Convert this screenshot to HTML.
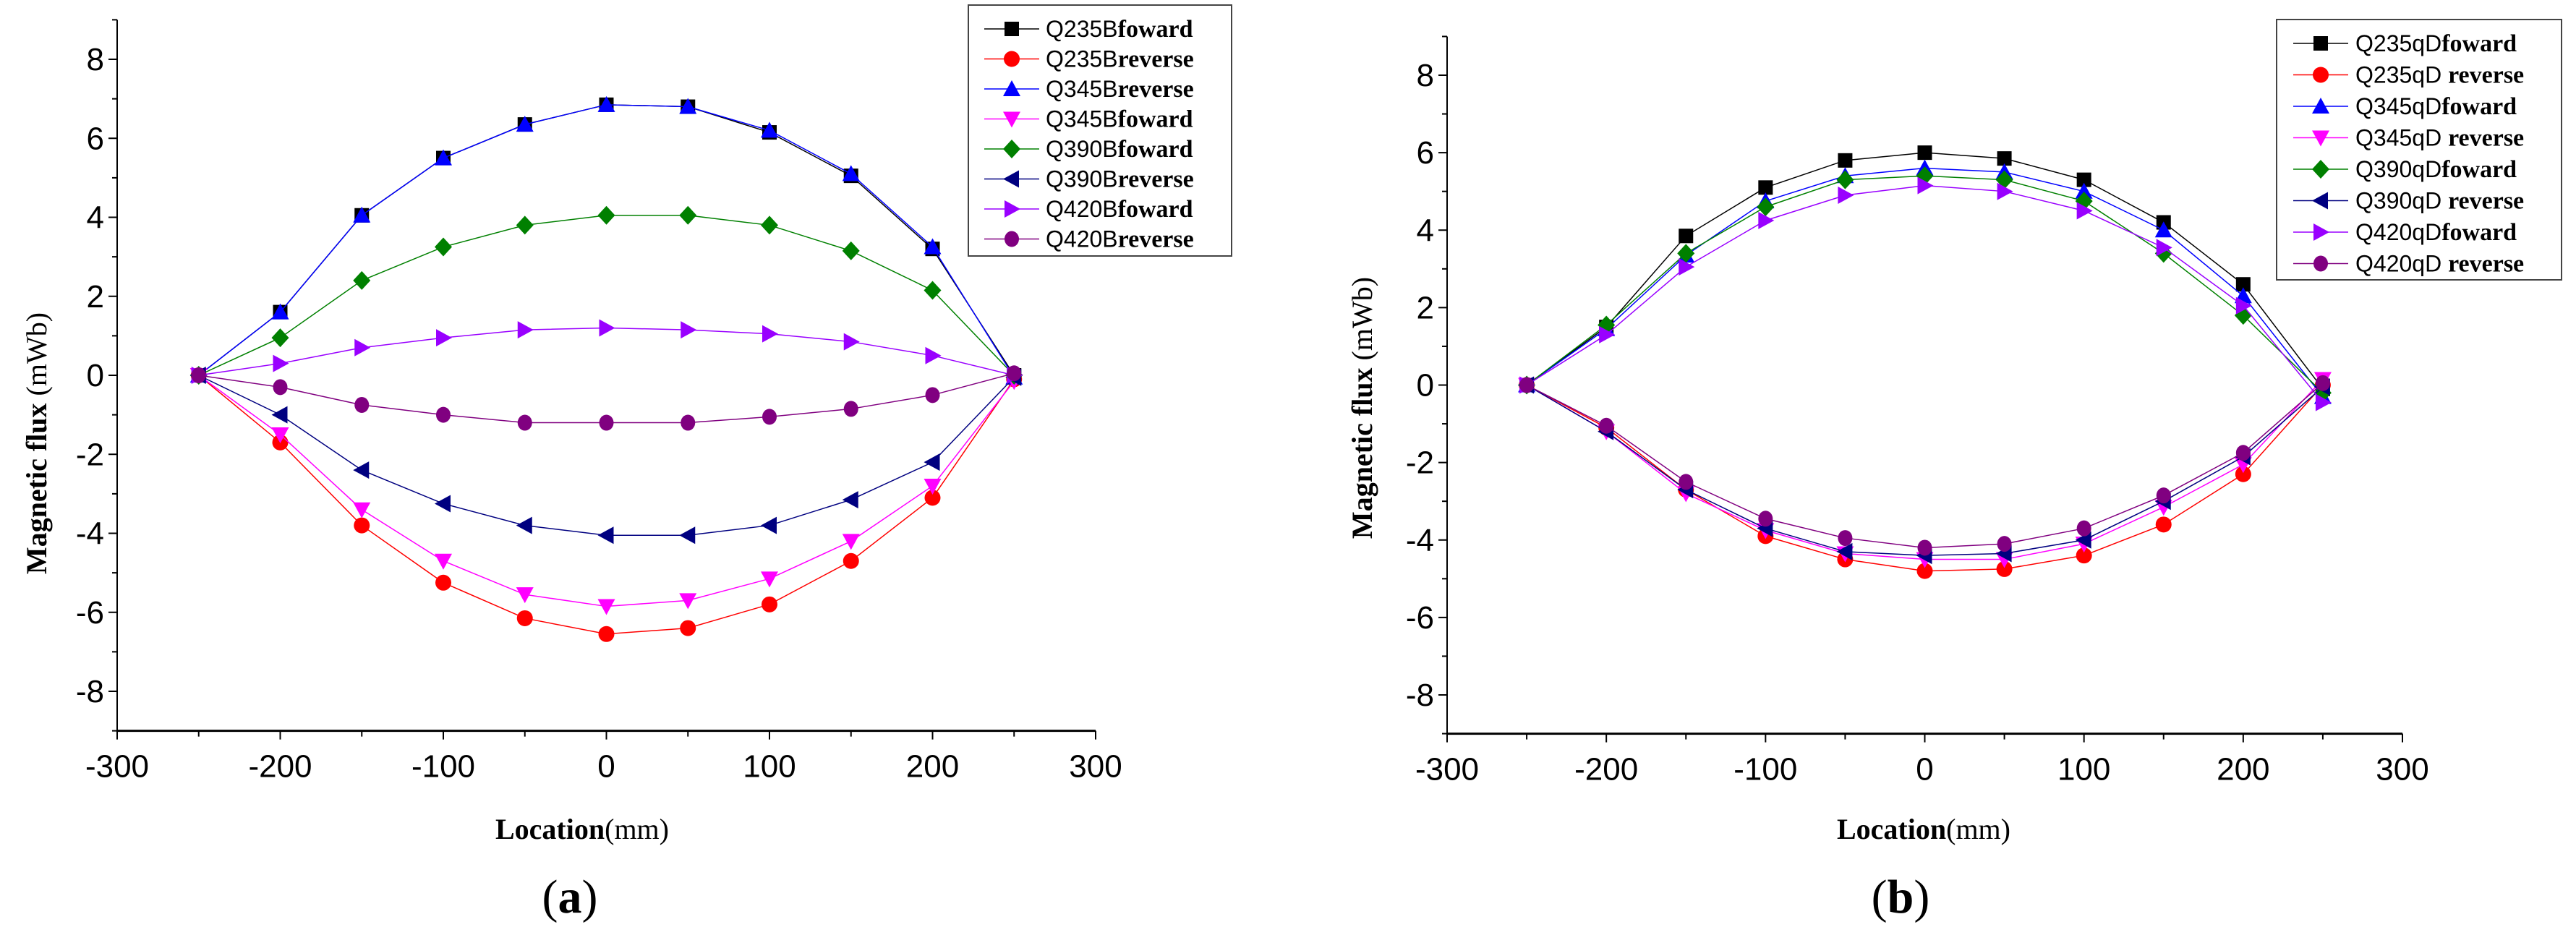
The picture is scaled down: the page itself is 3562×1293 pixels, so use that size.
<!DOCTYPE html>
<html><head><meta charset="utf-8"><style>
body{margin:0;background:#fff;}
svg{display:block;font-family:"Liberation Sans",sans-serif;}
</style></head><body>
<svg id="s" width="3562" height="1293" viewBox="0 0 3562 1293"></svg>
<script>
const xs=[-250,-200,-150,-100,-50,0,50,100,150,200,250];
const xTicks=[-300,-200,-100,0,100,200,300];
const yTicks=[-8,-6,-4,-2,0,2,4,6,8];
const namesA=["Q235Bfoward","Q235Breverse","Q345Breverse","Q345Bfoward","Q390Bfoward","Q390Breverse","Q420Bfoward","Q420Breverse"];
const namesB=["Q235qDfoward","Q235qD reverse","Q345qDfoward","Q345qD reverse","Q390qDfoward","Q390qD reverse","Q420qDfoward","Q420qD reverse"];
const a1=[0,1.6,4.05,5.5,6.35,6.85,6.8,6.15,5.05,3.2,0];
const a2=[0,-1.7,-3.8,-5.25,-6.15,-6.55,-6.4,-5.8,-4.7,-3.1,-0.1];
const a3=[0,1.6,4.05,5.5,6.35,6.85,6.8,6.2,5.1,3.25,-0.05];
const a4=[0,-1.5,-3.4,-4.7,-5.55,-5.85,-5.7,-5.15,-4.2,-2.8,-0.15];
const a5=[0,0.95,2.4,3.25,3.8,4.05,4.05,3.8,3.15,2.15,0];
const a6=[0,-1,-2.4,-3.25,-3.8,-4.05,-4.05,-3.8,-3.15,-2.2,-0.05];
const a7=[0,0.3,0.7,0.95,1.15,1.2,1.15,1.05,0.85,0.5,0];
const a8=[0,-0.3,-0.75,-1,-1.2,-1.2,-1.2,-1.05,-0.85,-0.5,0.05];
const b1=[0,1.5,3.85,5.1,5.8,6.0,5.85,5.3,4.2,2.6,-0.1];
const b2=[0,-1.1,-2.7,-3.9,-4.5,-4.8,-4.75,-4.4,-3.6,-2.3,0];
const b3=[0,1.45,3.35,4.75,5.4,5.6,5.5,5.0,4.0,2.3,-0.3];
const b4=[0,-1.2,-2.8,-3.75,-4.35,-4.5,-4.5,-4.1,-3.15,-2.05,0.15];
const b5=[0,1.55,3.4,4.6,5.3,5.4,5.3,4.75,3.4,1.8,-0.2];
const b6=[0,-1.2,-2.7,-3.7,-4.3,-4.4,-4.35,-4.0,-3.0,-1.85,-0.05];
const b7=[0,1.3,3.05,4.25,4.9,5.15,5.0,4.5,3.55,2.05,-0.45];
const b8=[0,-1.05,-2.5,-3.45,-3.95,-4.2,-4.1,-3.7,-2.85,-1.75,0.05];
const colors=["#000","#ff0000","#0000ff","#ff00ff","#008000","#000080","#9900ff","#800080"];
const shapes=["sq","ci","up","dn","di","lt","rt","hx"];
const NS="http://www.w3.org/2000/svg";
const svg=document.getElementById('s');
function el(t,at,p){const e=document.createElementNS(NS,t);for(const k in at)e.setAttribute(k,at[k]);(p||svg).appendChild(e);return e;}
function marker(g,shape,x,y,c){
  const r=10;let e;
  if(shape=="sq")e=el('rect',{x:x-r,y:y-r,width:2*r,height:2*r,fill:c},g);
  else if(shape=="ci")e=el('ellipse',{cx:x,cy:y,rx:r+1,ry:r+1,fill:c},g);
  else if(shape=="hx")e=el('ellipse',{cx:x,cy:y,rx:r,ry:r+1,fill:c},g);
  else{let p;
    if(shape=="up")p=[[x,y-r-2],[x+r+2,y+r],[x-r-2,y+r]];
    if(shape=="dn")p=[[x,y+r+2],[x+r+2,y-r],[x-r-2,y-r]];
    if(shape=="di")p=[[x,y-r-3],[x+r+2,y],[x,y+r+3],[x-r-2,y]];
    if(shape=="lt")p=[[x-r-2,y],[x+r,y-r-2],[x+r,y+r+2]];
    if(shape=="rt")p=[[x+r+2,y],[x-r,y-r-2],[x-r,y+r+2]];
    e=el('polygon',{points:p.map(q=>q.join(',')).join(' '),fill:c},g);}
  
  
}
function panel(o){
  const X=v=>o.x0+(v+300)/600*(o.x1-o.x0);
  const Y=v=>o.y8+(8-v)/16*(o.yn8-o.y8);
  const g=el('g',{});
  
  
  const yb=Y(-9),yt=Y(9);
  let ax=el('line',{x1:o.x0,y1:yt,x2:o.x0,y2:yb,stroke:'#000','stroke-width':2},g);
  
  ax=el('line',{x1:o.x0,y1:yb,x2:o.x1,y2:yb,stroke:'#000','stroke-width':3},g);
  
  for(let v=-300;v<=300;v+=50){el('line',{x1:X(v),y1:yb,x2:X(v),y2:yb+(v%100==0?12:8),stroke:'#000','stroke-width':2},g);}
  for(let v=-9;v<=9;v++){el('line',{x1:o.x0,y1:Y(v),x2:o.x0-(v%2==0?12:7),y2:Y(v),stroke:'#000','stroke-width':2},g);}
  xTicks.forEach(v=>{const t=el('text',{x:X(v),y:yb+64,'font-size':44,'text-anchor':'middle'},g);t.textContent=v;
    });
  yTicks.forEach(v=>{const t=el('text',{x:o.x0-18,y:Y(v)+15,'font-size':44,'text-anchor':'end'},g);t.textContent=v;
    });
  let t=el('text',{x:o.xtx,y:1160,'font-size':40,'text-anchor':'middle','font-family':'Liberation Serif'},g);
  t.innerHTML='<tspan font-weight="bold">Location</tspan>(mm)';
  
  t=el('text',{x:0,y:0,'font-size':40,'text-anchor':'middle','font-family':'Liberation Serif',transform:`translate(${o.ytx},${o.yty}) rotate(-90)`},g);
  t.innerHTML='<tspan font-weight="bold">Magnetic flux</tspan> (mWb)';
  
  t=el('text',{x:o.lab,y:1262,'font-size':66,'text-anchor':'middle','font-family':'Liberation Serif'},g);
  t.innerHTML='(<tspan font-weight="bold">'+o.letter+'</tspan>)';
  
  o.series.forEach((s,i)=>{
    const sg=el('g',{},g);
    
    
    el('polyline',{points:s.map((v,j)=>X(xs[j])+','+Y(v)).join(' '),fill:'none',stroke:colors[i],'stroke-width':1.5},sg);
    s.forEach((v,j)=>marker(sg,shapes[i],X(xs[j]),Y(v),colors[i]));
  });
  const lg=el('g',{},g);
  
  el('rect',{x:o.lx0,y:o.ly0,width:o.lx1-o.lx0,height:o.ly1-o.ly0,fill:'#fff',stroke:'#444','stroke-width':2},lg);
  o.names.forEach((n,i)=>{
    const yy=o.ly0+o.lfirst+i*o.lsp;
    const eg=el('g',{},lg);
    
    el('line',{x1:o.lm-38,y1:yy,x2:o.lm+38,y2:yy,stroke:colors[i],'stroke-width':1.5},eg);
    marker(eg,shapes[i],o.lm,yy,colors[i]);
    const m=n.match(/^(Q\d+(?:B|qD ?))(.*)$/);
    const tt=el('text',{x:o.lt,y:yy+11,'font-size':32},eg);
    tt.innerHTML=m[1]+'<tspan font-weight="bold" font-family="Liberation Serif" font-size="34">'+m[2]+'</tspan>';
  });
}
panel({id:'chart-a',x0:162,x1:1515,y8:82,yn8:956,xtx:805,ytx:64,yty:613,lab:788,letter:'a',
  series:[a1,a2,a3,a4,a5,a6,a7,a8],names:namesA,lx0:1339,lx1:1703,ly0:7,ly1:354,lfirst:33,lsp:41.5,lm:1399,lt:1446});
panel({id:'chart-b',x0:2001,x1:3322,y8:104,yn8:961,xtx:2660,ytx:1897,yty:564,lab:2628,letter:'b',
  series:[b1,b2,b3,b4,b5,b6,b7,b8],names:namesB,lx0:3148,lx1:3542,ly0:27,ly1:387,lfirst:33,lsp:43.5,lm:3209,lt:3257});
</script>
</body></html>
